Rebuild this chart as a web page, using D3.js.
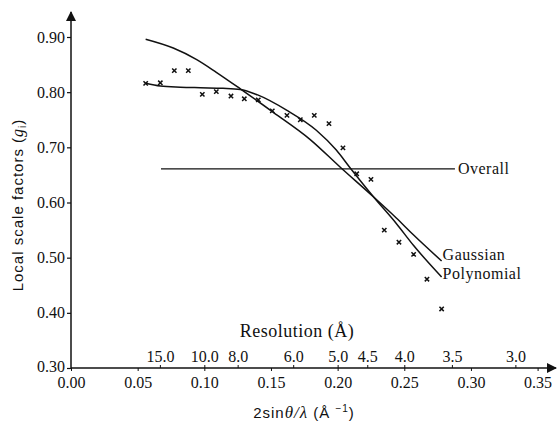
<!DOCTYPE html>
<html>
<head>
<style>
  body { margin: 0; background: #fff; }
  svg text { fill: #111; }
  .tick-serif { font-family: "Liberation Serif", "Times New Roman", serif; font-size: 16px; }
  .label-serif { font-family: "Liberation Serif", "Times New Roman", serif; font-size: 16px; letter-spacing: 0.5px; }
</style>
</head>
<body>
<svg id="svg" width="557" height="423"></svg>
<script src="https://d3js.org/d3.v7.min.js"></script>
<script>
// values
const xTicks = [0.00, 0.05, 0.10, 0.15, 0.20, 0.25, 0.30, 0.35]
const yTicks = [0.30, 0.40, 0.50, 0.60, 0.70, 0.80, 0.90]
const resolutions = [15.0, 10.0, 8.0, 6.0, 5.0, 4.5, 4.0, 3.5, 3.0]

const obsX = [0.056, 0.067, 0.0775, 0.088, 0.0985, 0.109, 0.120, 0.130, 0.1405, 0.151, 0.162,
              0.172, 0.1825, 0.1935, 0.204, 0.2143, 0.225, 0.235, 0.246, 0.257, 0.267, 0.278]
const obsY = [0.816, 0.817, 0.839, 0.839, 0.796, 0.801, 0.793, 0.788, 0.786, 0.766, 0.758,
              0.750, 0.758, 0.743, 0.699, 0.652, 0.642, 0.550, 0.528, 0.506, 0.461, 0.407]

const gaussX = [0.056, 0.0767, 0.0943, 0.109, 0.127, 0.152, 0.179, 0.202, 0.227, 0.244, 0.257, 0.278]
const gaussY = [0.896, 0.880, 0.859, 0.836, 0.806, 0.763, 0.715, 0.664, 0.610, 0.572, 0.541, 0.494]

const polyX = [0.056, 0.067, 0.082, 0.097, 0.114, 0.127, 0.140, 0.162, 0.184, 0.199, 0.209, 0.227, 0.244, 0.257, 0.278]
const polyY = [0.816, 0.811, 0.809, 0.808, 0.807, 0.805, 0.795, 0.767, 0.731, 0.695, 0.664, 0.610, 0.562, 0.522, 0.465]

const overallValue = 0.661
const overallRange = [0.0675, 0.288]

const svg = d3.select('#svg')
const x = d3.scaleLinear().domain([0, 0.35]).range([71, 537.6])
const y = d3.scaleLinear().domain([0.3, 0.9]).range([368, 37])
const ink = '#111'

// axes lines with arrows
svg.append('defs').append('marker')
  .attr('id', 'arrow').attr('viewBox', '0 0 10 10')
  .attr('refX', 9).attr('refY', 5)
  .attr('markerWidth', 14).attr('markerHeight', 10)
  .attr('markerUnits', 'userSpaceOnUse')
  .attr('orient', 'auto')
  .append('path').attr('d', 'M0,0 L10,5 L0,10 Z').attr('fill', ink)

svg.append('line')
  .attr('x1', x(0)).attr('y1', y(0.3)).attr('x2', x(0)).attr('y2', 12)
  .attr('stroke', ink).attr('stroke-width', 1.5).attr('marker-end', 'url(#arrow)')
svg.append('line')
  .attr('x1', x(0)).attr('y1', y(0.3)).attr('x2', 556).attr('y2', y(0.3))
  .attr('stroke', ink).attr('stroke-width', 1.5).attr('marker-end', 'url(#arrow)')

// left axis
const leftAxis = d3.axisLeft(y).tickValues(yTicks).tickFormat(d3.format('.2f')).tickSize(4).tickPadding(2)
const gl = svg.append('g').attr('transform', `translate(${x(0)},0)`).call(leftAxis)
gl.select('.domain').remove()
gl.selectAll('line').attr('stroke', ink).attr('stroke-width', 1.2)
gl.selectAll('text').attr('class', 'tick-serif').attr('font-family', null).attr('font-size', null)
gl.selectAll('.tick').filter(d => d === 0.3).select('text').attr('dy', '0.2em')

// bottom axis
const bottomAxis = d3.axisBottom(x).tickValues(xTicks).tickFormat(d3.format('.2f')).tickSize(3).tickPadding(6)
const gb = svg.append('g').attr('transform', `translate(0,${y(0.3)})`).call(bottomAxis)
gb.select('.domain').remove()
gb.selectAll('line').attr('stroke', ink)
gb.selectAll('text').attr('class', 'tick-serif').attr('font-family', null).attr('font-size', null)

// resolution axis (on top of x-axis)
const resAxis = d3.axisTop(x).tickValues(resolutions.map(d => 1 / d)).tickFormat((d, i) => resolutions[i].toFixed(1)).tickSize(3).tickPadding(3)
const gr = svg.append('g').attr('transform', `translate(0,${y(0.3)})`).call(resAxis)
gr.select('.domain').remove()
gr.selectAll('line').attr('stroke', ink)
gr.selectAll('text').attr('class', 'tick-serif').attr('font-family', null).attr('font-size', null)

svg.append('text').attr('class', 'label-serif')
  .attr('x', 297).attr('y', 337).attr('text-anchor', 'middle')
  .style('font-size', '18px')
  .text('Resolution (Å)')

// axis titles
svg.append('text')
  .attr('transform', 'translate(23,205) rotate(-90)')
  .attr('text-anchor', 'middle')
  .attr('font-family', 'Liberation Sans, Arial, sans-serif').attr('font-size', 15)
  .attr('letter-spacing', 1)
  .html('Local scale factors (<tspan font-family="Liberation Serif" font-style="italic" font-size="16">g</tspan><tspan font-size="10" dy="3">i</tspan><tspan dy="-3">)</tspan>')

svg.append('text')
  .attr('x', 304).attr('y', 418).attr('text-anchor', 'middle')
  .attr('font-family', 'Liberation Sans, Arial, sans-serif').attr('font-size', 15)
  .attr('letter-spacing', 1)
  .html('2sin<tspan font-family="Liberation Serif" font-style="italic" font-size="17">θ/λ</tspan> (Å <tspan font-size="10" dy="-6">−1</tspan><tspan dy="6">)</tspan>')

// curves
const line = d3.line().x(d => x(d[0])).y(d => y(d[1])).curve(d3.curveMonotoneX)
const gaussPts = gaussX.map((v, i) => [v, gaussY[i]])
const polyPts = polyX.map((v, i) => [v, polyY[i]])

svg.append('path').datum(gaussPts).attr('d', line)
  .attr('fill', 'none').attr('stroke', ink).attr('stroke-width', 1.5)
svg.append('path').datum(polyPts).attr('d', line)
  .attr('fill', 'none').attr('stroke', ink).attr('stroke-width', 1.5)

// overall line
svg.append('line')
  .attr('x1', x(overallRange[0])).attr('x2', x(overallRange[1]))
  .attr('y1', y(overallValue)).attr('y2', y(overallValue))
  .attr('stroke', ink).attr('stroke-width', 1.3)

// labels
svg.append('text').attr('class', 'label-serif').attr('x', x(overallRange[1]) + 3).attr('y', y(overallValue) + 5).text('Overall')
svg.append('text').attr('class', 'label-serif').attr('x', x(gaussX[gaussX.length - 1]) + 1).attr('y', 260).text('Gaussian')
svg.append('text').attr('class', 'label-serif').attr('x', x(polyX[polyX.length - 1]) + 1).attr('y', 278.5).text('Polynomial')

// observed points
const cross = d3.symbol().type(d3.symbolTimes).size(14)
svg.append('g').selectAll('path')
  .data(obsX.map((v, i) => [v, obsY[i]]))
  .join('path')
  .attr('transform', d => `translate(${x(d[0])},${y(d[1])})`)
  .attr('d', cross)
  .attr('fill', 'none').attr('stroke', ink).attr('stroke-width', 1.5)
</script>
</body>
</html>
